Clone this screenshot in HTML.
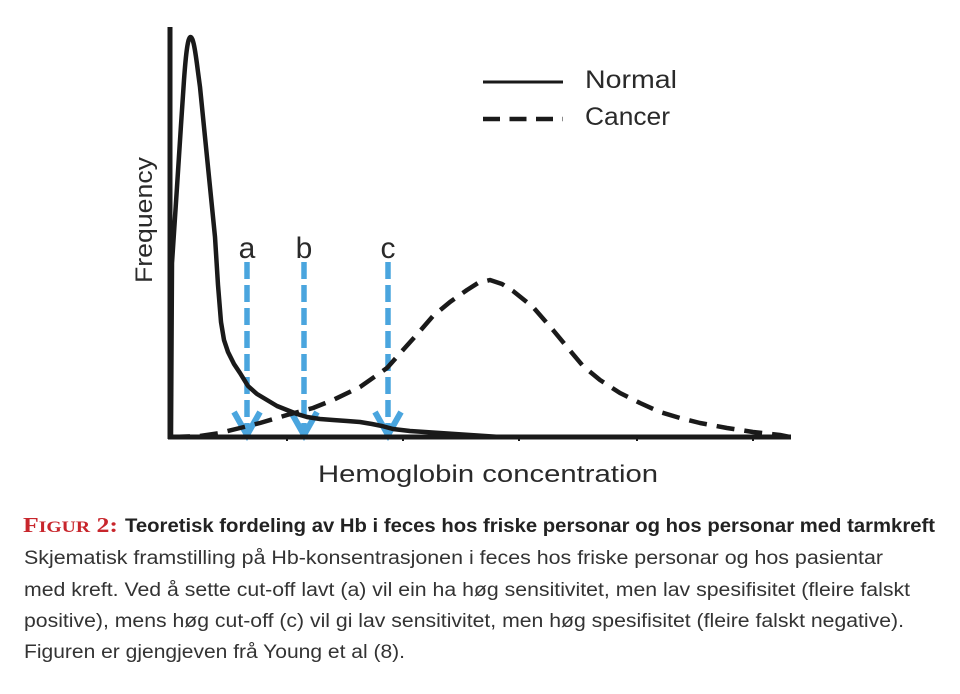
<!DOCTYPE html>
<html><head><meta charset="utf-8"><style>
html,body{margin:0;padding:0;background:#fff;}
svg{display:block;}
</style></head><body>
<svg width="960" height="694" viewBox="0 0 960 694" xmlns="http://www.w3.org/2000/svg">
<rect width="960" height="694" fill="#fff"/>
<!-- blue arrows -->
<g stroke="#4aa5de" stroke-width="5.5" fill="none">
  <line x1="247" y1="262" x2="247" y2="432" stroke-dasharray="17 6"/>
  <line x1="304" y1="262" x2="304" y2="432" stroke-dasharray="17 6"/>
  <line x1="388" y1="262" x2="388" y2="432" stroke-dasharray="17 6"/>
  <polyline points="234,412 247,435 260,412" stroke-linejoin="miter" stroke-width="6"/>
  <polyline points="291,412 304,435 317,412" stroke-linejoin="miter" stroke-width="6"/>
  <polyline points="375,412 388,435 401,412" stroke-linejoin="miter" stroke-width="6"/>
</g>
<!-- axes -->
<g stroke="#1a1a1a" fill="none">
  <line x1="170" y1="27" x2="170" y2="439" stroke-width="5"/>
  <line x1="168" y1="437" x2="791" y2="437" stroke-width="5"/>
  <g stroke-width="2">
    <line x1="287" y1="437" x2="287" y2="441"/>
    <line x1="403" y1="437" x2="403" y2="441"/>
    <line x1="519" y1="437" x2="519" y2="441"/>
    <line x1="637" y1="437" x2="637" y2="441"/>
    <line x1="753" y1="437" x2="753" y2="441"/>
  </g>
</g>
<!-- normal curve -->
<path d="M171,437 L172,263 L177,187 L181,125 L184,80 C186,52 188,37 190.5,37 C193,37 195,48 198,72 L200,87 L205,137 L210,187 L215,237 L218,285 L221,322 L224,340 L228,352 L234,364 L240,373 L248,386 L257,394 L267,400 L277,406 L287,410 L297,414 L307,417 L320,419 L333,420 L347,421 L360,422 L372,424 L382,426 L393,429 L410,431 L440,433 L470,435 L500,437" fill="none" stroke="#1a1a1a" stroke-width="4.5" stroke-linejoin="round" stroke-linecap="round"/>
<!-- cancer curve -->
<path d="M172,437 L200,436 L220,433 L240,428 L260,423 L287,415 L313,408 L333,400 L360,387 L387,368 L403,350 L420,331 L433,316 L450,302 L467,290 L478,283 L490,280 L502,284 L513,291 L533,307 L553,330 L567,347 L583,366 L600,380 L620,393 L640,403 L660,412 L680,418 L700,423 L727,428 L753,432 L780,435 L790,437" fill="none" stroke="#1a1a1a" stroke-width="4.5" stroke-dasharray="18 10" stroke-linejoin="round"/>
<!-- letters -->
<g font-family="Liberation Sans, DejaVu Sans, sans-serif" fill="#2a2a2a">
  <text x="247" y="258" font-size="30" text-anchor="middle">a</text>
  <text x="304" y="258" font-size="30" text-anchor="middle">b</text>
  <text x="388" y="258" font-size="30" text-anchor="middle">c</text>
  <text x="0" y="0" font-size="24" transform="translate(152,283) rotate(-90)" textLength="126" lengthAdjust="spacingAndGlyphs">Frequency</text>
  <text x="318" y="482" font-size="24" textLength="340" lengthAdjust="spacingAndGlyphs">Hemoglobin concentration</text>
  <text x="585" y="88" font-size="25" textLength="92" lengthAdjust="spacingAndGlyphs">Normal</text>
  <text x="585" y="125" font-size="25" textLength="85" lengthAdjust="spacingAndGlyphs">Cancer</text>
</g>
<!-- legend lines -->
<line x1="483" y1="82" x2="563" y2="82" stroke="#1a1a1a" stroke-width="3"/>
<line x1="483" y1="119" x2="563" y2="119" stroke="#1a1a1a" stroke-width="4.5" stroke-dasharray="17 9.5"/>
<!-- caption -->
<text x="23" y="532" font-family="Liberation Serif, serif" font-weight="bold" fill="#c8262c" font-size="21" textLength="95" lengthAdjust="spacingAndGlyphs">F<tspan font-size="16">IGUR</tspan> 2:</text>
<text x="125" y="532" font-family="Liberation Sans, sans-serif" font-weight="bold" fill="#222" font-size="19" textLength="810" lengthAdjust="spacingAndGlyphs">Teoretisk fordeling av Hb i feces hos friske personar og hos personar med tarmkreft</text>
<g font-family="Liberation Sans, sans-serif" fill="#333" font-size="19">
  <text x="24" y="564" textLength="859" lengthAdjust="spacingAndGlyphs">Skjematisk framstilling på Hb-konsentrasjonen i feces hos friske personar og hos pasientar</text>
  <text x="24" y="596" textLength="886" lengthAdjust="spacingAndGlyphs">med kreft. Ved å sette cut-off lavt (a) vil ein ha høg sensitivitet, men lav spesifisitet (fleire falskt</text>
  <text x="24" y="627" textLength="880" lengthAdjust="spacingAndGlyphs">positive), mens høg cut-off (c) vil gi lav sensitivitet, men høg spesifisitet (fleire falskt negative).</text>
  <text x="24" y="658" textLength="381" lengthAdjust="spacingAndGlyphs">Figuren er gjengjeven frå Young et al (8).</text>
</g>
</svg>
</body></html>
